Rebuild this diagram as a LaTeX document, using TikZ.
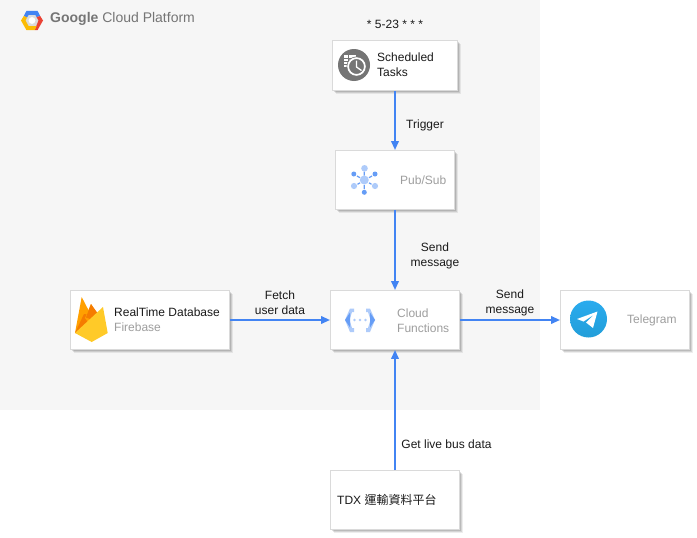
\documentclass[tikz,border=0pt]{standalone}
\usepackage{fontspec}
\setmainfont{Liberation Sans}
\newfontfamily\cjk{Noto Sans CJK TC}
\usetikzlibrary{shadows,arrows.meta}
\definecolor{flow}{HTML}{4284F3}
\definecolor{panel}{HTML}{F6F6F6}
\definecolor{edgegray}{HTML}{DADADA}
\definecolor{txtgray}{HTML}{9E9E9E}
\definecolor{ink}{HTML}{1A1A1A}
\definecolor{gdark}{HTML}{669DF6}
\definecolor{glight}{HTML}{AECBFA}
\definecolor{gcpred}{HTML}{EA4335}
\definecolor{gcpyellow}{HTML}{FBBC05}
\definecolor{gcpgrey}{HTML}{DCDCDC}
\definecolor{titlegray}{HTML}{757575}
\definecolor{fbamber}{HTML}{FFA000}
\definecolor{fborange}{HTML}{F57C00}
\definecolor{fbyellow}{HTML}{FFCA28}
\definecolor{tgtop}{HTML}{2AABEE}
\definecolor{tgbot}{HTML}{229ED9}
\tikzset{
  x=1pt,y=-1pt,
  card/.style={draw=edgegray,line width=.9pt,fill=white,inner sep=0pt,
    drop shadow={shadow xshift=3.4pt,shadow yshift=-3.4pt,fill=black,opacity=.07},
    drop shadow={shadow xshift=2.4pt,shadow yshift=-2.4pt,fill=black,opacity=.1},
    drop shadow={shadow xshift=1.4pt,shadow yshift=-1.4pt,fill=black,opacity=.12}},
  flowline/.style={draw=flow,line width=2pt,-{Triangle[length=9pt,width=7.5pt]}},
  lab/.style={inner sep=0pt,align=center,text=ink,font=\fontsize{12}{15}\selectfont},
  labl/.style={lab,anchor=west,align=left},
  glab/.style={labl,text=txtgray},
}
\begin{document}
\begin{tikzpicture}
\useasboundingbox (0,0) rectangle (697,538);
\fill[white] (0,0) rectangle (697,538);
\fill[panel] (0,0) rectangle (540,410);

% GCP logo and title
\begin{scope}[shift={(32,20.5)}]
  \fill[gcpgrey] (0,0) circle (7);
  \fill[white] (0,0) circle (3.4);
  \fill[flow] (-8.2,-4.5) -- (-5.5,-9.7) -- (5.5,-9.7) -- (8.2,-4.5) -- (4.6,-3.4) -- (3.3,-5.7) -- (-3.3,-5.7) -- (-5,-3) -- cycle;
  \fill[gcpred] (8.2,-4.5) -- (11,0) -- (5.5,9.7) -- (2.6,9.7) -- (6.5,0) -- (4.6,-3.4) -- cycle;
  \fill[gcpyellow] (-8.2,-4.5) -- (-11,0) -- (-5.5,9.7) -- (2.6,9.7) -- (4.6,5.7) -- (-3.3,5.7) -- (-6.5,0) -- (-5,-3) -- cycle;
\end{scope}
\node[labl,text=titlegray,font=\fontsize{14}{16}\selectfont] (title) at (50,19) {\textbf{Google} Cloud Platform};

% Cards
\node[card,minimum width=125pt,minimum height=50pt] (sched) at (395,65.5) {};
\node[card,minimum width=119pt,minimum height=59pt] (pubsub) at (395,180) {};
\node[card,minimum width=129pt,minimum height=59pt] (cf) at (395,320) {};
\node[card,minimum width=159pt,minimum height=59pt] (db) at (150,320) {};
\node[card,minimum width=129pt,minimum height=59pt] (tg) at (625,320) {};
\node[card,minimum width=129pt,minimum height=59pt] (tdx) at (395,500) {};

% Connectors
\draw[flowline] (sched.south) -- (pubsub.north);
\draw[flowline] (pubsub.south) -- (cf.north);
\draw[flowline] (db.east) -- (cf.west);
\draw[flowline] (cf.east) -- (tg.west);
\draw[flowline] (tdx.north) -- (cf.south);

% Scheduled tasks icon
\fill[titlegray] (354,65) circle (16);
\fill[white] (344,55) rectangle (356,67);
\foreach \yy in {58,61,64,67} \draw[titlegray,line width=.7pt] (344,\yy) -- (356,\yy);
\draw[titlegray,line width=.7pt] (348,55) -- (348,67);
\fill[titlegray] (356.5,66.5) circle (10);
\draw[white,line width=1.7pt] (356.5,66.5) circle (8.4);
\draw[white,line width=1.3pt] (356.5,60.5) -- (356.5,67) -- (361.5,70.5);

% Pub/Sub icon
\draw[gdark,line width=1.2pt] (364.3,171.5) -- (364.3,175.5) (357,176) -- (360,177.7) (372,176) -- (369,177.7)
  (357.5,184.3) -- (360,182.8) (371.5,184.3) -- (369,182.8) (364.3,185) -- (364.3,189);
\fill[glight] (364.3,180) circle (4.5) (364.5,168.3) circle (3.3) (354,186) circle (3.1) (375,186) circle (3.1);
\fill[gdark] (353.8,174) circle (2.5) (375,174) circle (2.5) (364.3,192.3) circle (2.5);

% Cloud Functions icon
\fill[glight] (345,320) -- (350,308.5) -- (354,308.5) -- (354,312) -- (352,312) -- (349.5,320) -- (352,328) -- (354,328) -- (354,332) -- (350,332) -- cycle;
\fill[gdark] (345,320) -- (350,312.5) -- (350,327.5) -- cycle;
\fill[glight] (375,320) -- (370,308.5) -- (366,308.5) -- (366,312) -- (368,312) -- (370.5,320) -- (368,328) -- (366,328) -- (366,332) -- (370,332) -- cycle;
\fill[gdark] (375,320) -- (370,312.5) -- (370,327.5) -- cycle;
\fill[glight] (354.5,320) circle (1.3) (360,320) circle (1.3) (365.5,320) circle (1.3);

% Firebase icon
\fill[fbamber] (75,333) -- (81.7,297) -- (91,315) -- (85,325) -- cycle;
\fill[fborange] (75,333) -- (84,314) -- (91,315) -- (91,325) -- cycle;
\fill[fbamber] (85,318) -- (91,304) -- (97.5,316) -- (91,326) -- cycle;
\fill[fborange] (86,317.5) -- (91,304) -- (97.5,313) -- (93,320) -- cycle;
\fill[fbyellow] (75,333) -- (103,307) -- (107.7,333) -- (91.7,342) -- cycle;

% Telegram icon
\shade[top color=tgtop,bottom color=tgbot] (588.5,319) circle (18.5);
\fill[white] (577,319) -- (597.5,311.5) -- (593,328) -- (586,322.5) -- (594,314.5) -- (583.5,321.5) -- cycle;

% Texts
\node[lab] (cron) at (395,24) {* 5-23 * * *};
\node[labl,align=left] (schedt) at (377,65) {Scheduled\\Tasks};
\node[lab] (trig) at (425,125) {Trigger};
\node[glab] (pst) at (400,180) {Pub/Sub};
\node[lab] (send1) at (435,256) {Send\\message};
\node[labl] (dbt) at (114,312.5) {RealTime Database};
\node[glab] (dbs) at (114,327.5) {Firebase};
\node[lab] (fetch) at (280,302.5) {Fetch\\user data};
\node[glab,align=left] (cft) at (397,320.5) {Cloud\\Functions};
\node[lab] (send2) at (510,303) {Send\\message};
\node[glab] (tgt) at (627,320) {Telegram};
\node[lab] (live) at (446.5,444.5) {Get live bus data};
\node[labl] (tdxt) at (337,499.5) {TDX {\cjk 運輸資料平台}};
\end{tikzpicture}
\end{document}
